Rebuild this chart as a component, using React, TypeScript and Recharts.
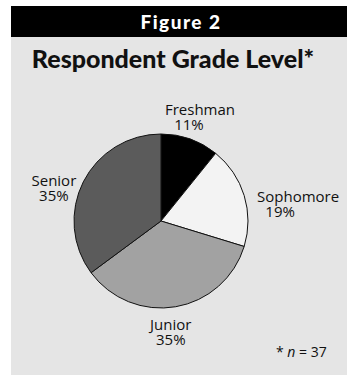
import { Cell, Pie, PieChart } from "recharts";

const grades = ["Freshman", "Sophomore", "Junior", "Senior"];
const respondents = [4, 7, 13, 13];
const sliceFills = ["#000000", "#f3f3f3", "#a2a2a2", "#5b5b5b"];

// hand nudges for the label text, relative to the radial anchor point
const labelNudge = [
  { dx: 2, pctDx: -9, dy: -1 },
  { dx: 31, pctDx: 13, dy: 14 },
  { dx: -9, pctDx: -9, dy: 0 },
  { dx: -8, pctDx: -8, dy: 15 },
];

const RADIAN = Math.PI / 180;
const titleFont = "Lato, 'Open Sans', sans-serif";
const bodyFont = "'Open Sans', Lato, sans-serif";

const data = grades.map((name, i) => ({ name, value: respondents[i] }));

function GradeLabel(props: any) {
  const { cx, cy, midAngle, outerRadius, percent, index, name } = props;
  const r = outerRadius + 24;
  const x = cx + r * Math.cos(-midAngle * RADIAN);
  const y = cy + r * Math.sin(-midAngle * RADIAN);
  const nudge = labelNudge[index];
  return (
    <text fill="#111" fontFamily={bodyFont} fontSize={15} textAnchor="middle">
      <tspan x={x + nudge.dx} y={y + nudge.dy}>
        {name}
      </tspan>
      <tspan x={x + nudge.pctDx} y={y + nudge.dy + 15}>
        {Math.round(percent * 100)}%
      </tspan>
    </text>
  );
}

export default function App() {
  return (
    <div
      style={{
        position: "absolute",
        left: 0,
        top: 0,
        width: 356,
        height: 385,
        background: "#fff",
        fontFamily: titleFont,
      }}
    >
      <div
        style={{
          position: "absolute",
          left: 11,
          top: 6,
          width: 336,
          height: 369,
          background: "#e5e5e5",
        }}
      >
        <div
          style={{
            height: 31,
            background: "#000",
            color: "#fff",
            fontWeight: 900,
            fontSize: 19,
            letterSpacing: 1.5,
            lineHeight: "31px",
            textAlign: "center",
            paddingLeft: 4,
          }}
        >
          Figure 2
        </div>
        <div
          style={{
            position: "absolute",
            top: 37,
            width: 336,
            textAlign: "center",
            fontWeight: 900,
            fontSize: 25,
            color: "#111",
            marginLeft: -6,
          }}
        >
          Respondent Grade Level*
        </div>
        <div style={{ position: "absolute", left: 0, top: 0 }}>
          <PieChart width={336} height={369}>
            <Pie
              data={data}
              dataKey="value"
              nameKey="name"
              cx={145}
              cy={210}
              outerRadius={87}
              startAngle={90}
              endAngle={-270}
              stroke="#111"
              strokeWidth={1}
              labelLine={false}
              label={GradeLabel}
              isAnimationActive={false}
            >
              {data.map((entry, i) => (
                <Cell key={entry.name} fill={sliceFills[i]} />
              ))}
            </Pie>
          </PieChart>
        </div>
        <div
          style={{
            position: "absolute",
            left: 265,
            top: 336,
            fontSize: 14,
            fontFamily: bodyFont,
            color: "#111",
          }}
        >
          * <i>n</i> = 37
        </div>
      </div>
    </div>
  );
}
